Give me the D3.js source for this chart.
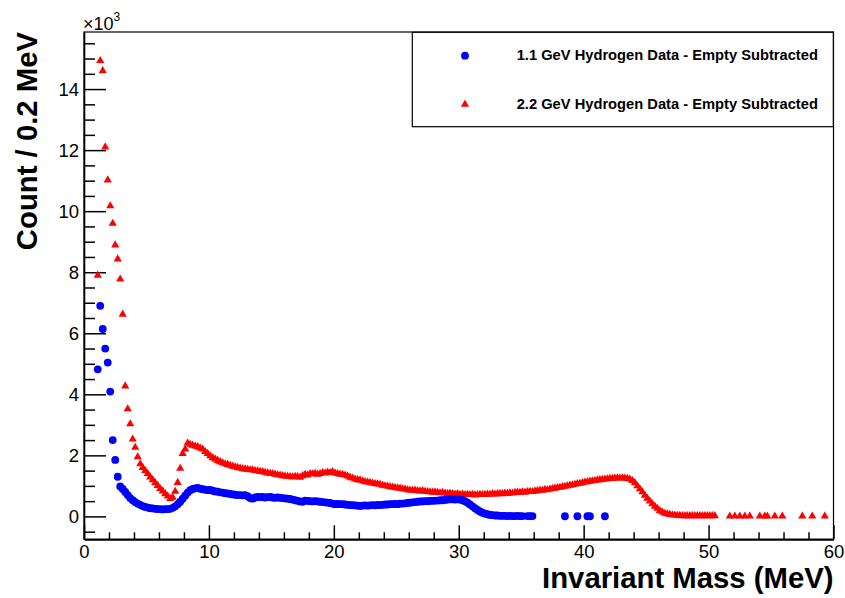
<!DOCTYPE html>
<html><head><meta charset="utf-8">
<script src="https://cdn.jsdelivr.net/npm/d3@7"></script>
<style>html,body{margin:0;padding:0;background:#fff;}svg{display:block;font-family:"Liberation Sans",Arial,sans-serif;}</style>
</head><body><svg id="c" width="845" height="598"></svg>
<script>
// Histogram binning (MeV): bins of 0.2 MeV, first bin centre 1.1 MeV
const binStart = 1.1, binWidth = 0.2;
// Counts per bin in units of 10^3; null = empty bin
const series11 = [4.82,6.90,6.14,5.50,5.04,4.09,2.50,1.85,1.30,0.98,
 0.90,0.80,0.70,0.60,0.53,0.47,0.42,0.38,0.34,0.31,
 0.29,0.27,0.26,0.25,0.24,0.24,0.23,0.24,0.24,0.25,
 0.28,0.33,0.40,0.48,0.58,0.68,0.78,0.86,0.90,0.92,
 0.93,0.91,0.89,0.88,0.86,0.87,0.84,0.82,0.81,0.79,
 0.78,0.76,0.75,0.74,0.72,0.71,0.70,0.70,0.69,0.70,
 0.66,0.60,0.58,0.62,0.64,0.63,0.64,0.62,0.63,0.64,
 0.62,0.61,0.62,0.61,0.60,0.59,0.58,0.57,0.55,0.53,
 0.51,0.49,0.48,0.52,0.51,0.50,0.49,0.50,0.49,0.48,
 0.47,0.46,0.45,0.44,0.42,0.40,0.41,0.40,0.40,0.39,
 0.38,0.37,0.37,0.36,0.35,0.34,0.35,0.36,0.35,0.36,
 0.37,0.36,0.38,0.37,0.38,0.39,0.39,0.40,0.40,0.41,
 0.40,0.42,0.42,0.43,0.44,0.45,0.46,0.47,0.48,0.49,
 0.49,0.50,0.50,0.51,0.51,0.52,0.52,0.53,0.53,0.54,
 0.55,0.56,0.56,0.55,0.56,0.55,0.53,0.50,0.45,0.39,
 0.33,0.27,0.21,0.16,0.12,0.09,0.07,0.05,0.04,0.03,
 0.03,0.02,0.02,0.02,0.01,0.02,0.01,0.01,0.02,0.01,
 0.01,null,0.01,0.01,0.01,null,null,null,null,null,
 null,null,null,null,null,null,null,0.005,null,null,
 null,null,0.005,null,null,null,0.005,0.005,null,null,
 null,null,null,0.005];
const series22 = [7.90,14.93,14.60,12.10,11.02,10.17,9.60,8.89,8.43,7.77,
 6.62,4.27,3.52,3.03,2.53,2.26,1.95,1.72,1.60,1.50,
 1.40,1.29,1.20,1.10,1.01,0.91,0.83,0.74,0.66,0.58,
 0.62,0.82,1.11,1.57,2.06,2.20,2.40,2.36,2.33,2.30,
 2.28,2.24,2.20,2.12,2.06,1.98,1.92,1.88,1.83,1.79,
 1.75,1.72,1.70,1.67,1.64,1.62,1.60,1.58,1.56,1.55,
 1.54,1.52,1.52,1.50,1.49,1.47,1.46,1.44,1.42,1.41,
 1.40,1.38,1.36,1.35,1.33,1.32,1.31,1.30,1.29,1.31,
 1.30,1.28,1.33,1.37,1.35,1.40,1.39,1.41,1.38,1.40,
 1.43,1.42,1.45,1.43,1.46,1.42,1.40,1.38,1.37,1.35,
 1.32,1.28,1.25,1.22,1.20,1.19,1.16,1.14,1.12,1.11,
 1.09,1.07,1.06,1.05,1.02,1.00,0.99,0.97,0.96,0.94,
 0.93,0.92,0.90,0.89,0.87,0.86,0.85,0.86,0.84,0.83,
 0.84,0.82,0.81,0.80,0.79,0.80,0.78,0.77,0.78,0.76,
 0.75,0.76,0.74,0.73,0.74,0.72,0.73,0.71,0.72,0.71,
 0.72,0.70,0.71,0.72,0.71,0.72,0.73,0.72,0.74,0.73,
 0.74,0.75,0.74,0.76,0.75,0.77,0.76,0.78,0.79,0.78,
 0.80,0.79,0.81,0.82,0.81,0.83,0.84,0.86,0.85,0.88,
 0.87,0.89,0.91,0.92,0.94,0.95,0.97,0.98,1.00,1.02,
 1.03,1.05,1.07,1.08,1.10,1.12,1.13,1.15,1.16,1.17,
 1.19,1.20,1.21,1.22,1.23,1.24,1.24,1.25,1.26,1.25,
 1.26,1.25,1.24,1.22,1.17,1.10,1.00,0.90,0.80,0.69,
 0.59,0.50,0.41,0.33,0.26,0.19,0.14,0.10,0.08,0.06,
 0.05,0.04,0.03,0.03,0.02,0.02,0.02,0.02,0.02,0.02,
 0.02,0.02,0.02,0.02,0.02,0.02,0.02,0.02,null,null,
 null,null,null,0.01,null,0.01,null,0.01,null,0.01,
 null,0.01,null,null,null,0.01,null,0.01,0.01,null,
 null,0.01,null,null,0.01,null,null,null,null,null,
 null,null,0.01,null,null,null,0.01,null,null,null,
 null,0.01];
const legendLabels = ["1.1 GeV Hydrogen Data - Empty Subtracted","2.2 GeV Hydrogen Data - Empty Subtracted"];
const xMajorTicks = [0,10,20,30,40,50,60];
const yMajorTicks = [0,2,4,6,8,10,12,14];
const xTitle = "Invariant Mass (MeV)";
const yTitle = "Count / 0.2 MeV";

const svg = d3.select("#c");
svg.append("rect").attr("width",845).attr("height",598).attr("fill","#fff");
const L=84, R=833.5, T=32, B=539.3;
const x = d3.scaleLinear().domain([0,60]).range([L,R]);
const y = d3.scaleLinear().domain([-0.75,15.87]).range([B,T]);
const FONT = "Liberation Sans, Arial, sans-serif";

// frame
svg.append("rect").attr("x",L).attr("y",T).attr("width",R-L).attr("height",B-T)
  .attr("fill","none").attr("stroke","#000").attr("stroke-width",1.2);

// x axis
const xAxis = d3.axisBottom(x).tickValues(xMajorTicks).tickSize(-14).tickSizeOuter(0).tickPadding(6).tickFormat(d3.format("d"));
const gx = svg.append("g").attr("transform",`translate(0,${B})`).call(xAxis);
gx.select(".domain").attr("stroke","#000").attr("stroke-width",2);
gx.selectAll("text").attr("font-size",18.5).attr("fill","#000").attr("font-family",FONT);
gx.selectAll(".tick line").attr("stroke","#000").attr("stroke-width",1.5);
const xMinor = d3.range(0,61,2).filter(v=>v%10!==0);
svg.append("g").attr("transform",`translate(0,${B})`).call(d3.axisBottom(x).tickValues(xMinor).tickSize(-7).tickFormat("")).call(g=>g.select(".domain").remove()).selectAll("line").attr("stroke","#000").attr("stroke-width",1.5);

// y axis
const yAxis = d3.axisLeft(y).tickValues(yMajorTicks).tickSize(-22).tickSizeOuter(0).tickPadding(5).tickFormat(d3.format("d"));
const gy = svg.append("g").attr("transform",`translate(${L},0)`).call(yAxis);
gy.select(".domain").attr("stroke","#000").attr("stroke-width",1.6);
gy.selectAll("text").attr("font-size",18.5).attr("fill","#000").attr("font-family",FONT);
gy.selectAll(".tick line").attr("stroke","#000").attr("stroke-width",1.5);
const yMinor = d3.range(-0.5,15.6,0.5).filter(v=>Math.abs(v%2)>1e-6);
svg.append("g").attr("transform",`translate(${L},0)`).call(d3.axisLeft(y).tickValues(yMinor).tickSize(-11).tickFormat("")).call(g=>g.select(".domain").remove()).selectAll("line").attr("stroke","#000").attr("stroke-width",1.5);

// x10^3
const exp = svg.append("text").attr("x",83).attr("y",29.5).attr("font-size",18).attr("fill","#000");
exp.append("tspan").text("\u00d710");
exp.append("tspan").attr("font-size",12).attr("dy",-8.5).text("3");

// titles
svg.append("text").attr("x",R).attr("y",588).attr("text-anchor","end").attr("font-weight","bold").attr("font-size",29.3).attr("fill","#000").text(xTitle);
svg.append("text").attr("transform",`translate(36.5,${T}) rotate(-90)`).attr("text-anchor","end").attr("font-weight","bold").attr("font-size",29.3).attr("fill","#000").text(yTitle);

// data
const pts = (arr)=>arr.map((v,i)=>({m: binStart + binWidth*i, v})).filter(d=>d.v!==null);
const tri = d3.symbol().type(d3.symbolTriangle).size(29);
svg.append("g").selectAll("path").data(pts(series22)).join("path")
  .attr("d",tri).attr("transform",d=>`translate(${x(d.m)},${y(d.v)})`).attr("fill","#ff0000");
svg.append("g").selectAll("circle").data(pts(series11)).join("circle")
  .attr("cx",d=>x(d.m)).attr("cy",d=>y(d.v)).attr("r",3.9).attr("fill","#0000ff");

// legend
svg.append("rect").attr("x",412.3).attr("y",32.3).attr("width",421).attr("height",94.4)
  .attr("fill","#fff").attr("stroke","#000").attr("stroke-width",1.2);
svg.append("circle").attr("cx",465).attr("cy",55.7).attr("r",3.9).attr("fill","#0000ff");
svg.append("path").attr("d",tri).attr("transform","translate(465,104.3)").attr("fill","#ff0000");
svg.selectAll(".leg").data(legendLabels).join("text").attr("class","leg")
  .attr("x",516.7).attr("y",(d,i)=>[60.3,108.8][i]).attr("font-weight","bold").attr("font-size",14.7).attr("fill","#000").text(d=>d);
</script></body></html>
